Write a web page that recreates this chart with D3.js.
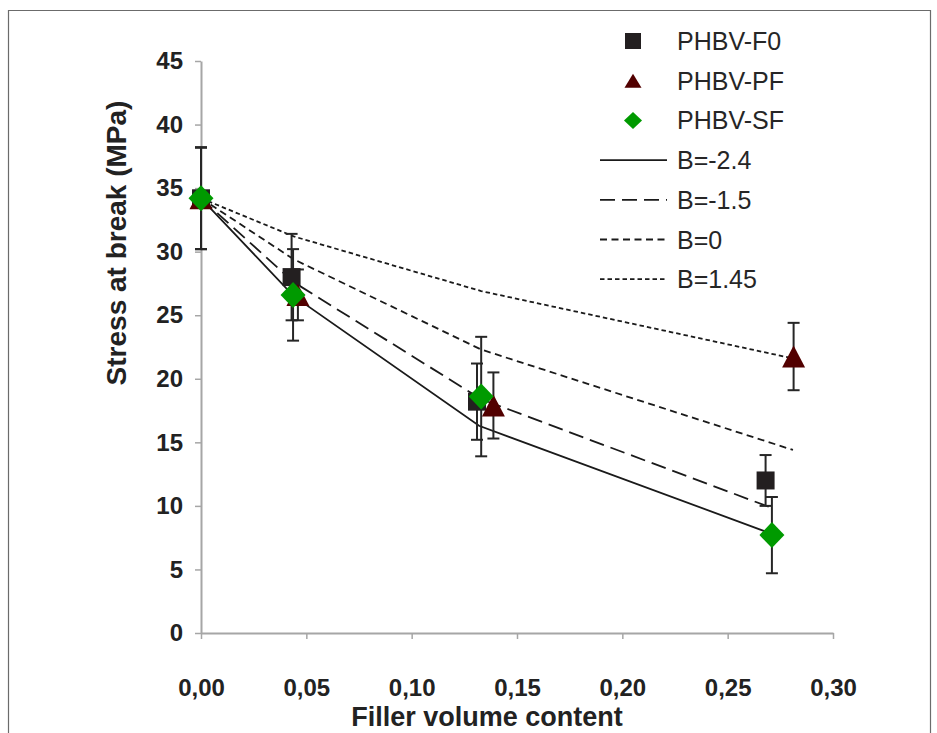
<!DOCTYPE html>
<html>
<head>
<meta charset="utf-8">
<script src="https://cdn.jsdelivr.net/npm/d3@7"></script>
<style>
  html, body { margin: 0; padding: 0; background: #fff; }
  svg { display: block; font-family: "Liberation Sans", Arial, sans-serif; }
</style>
</head>
<body>
<svg id="chart" width="937" height="733"></svg>
<script>
// Measured stress at break for each composite, mean and ± error
const f0X   = [0, 0.043, 0.131, 0.268];
const f0Y   = [34.2, 28.0, 18.2, 12.0];
const f0Err = [4.0, 3.4, 3.0, 2.0];

const pfX   = [0, 0.046, 0.1388, 0.2813];
const pfY   = [34.2, 26.6, 17.9, 21.75];
const pfErr = [4.0, 2.0, 2.6, 2.65];

const sfX   = [0, 0.0437, 0.133, 0.271];
const sfY   = [34.2, 26.6, 18.6, 7.7];
const sfErr = [4.0, 3.6, 4.7, 3.0];

const seriesNames = ["PHBV-F0", "PHBV-PF", "PHBV-SF"];

// Model predictions for different interaction parameters B
const modelNames = ["B=-2.4", "B=-1.5", "B=0", "B=1.45"];
const bNeg24X = [0, 0.044, 0.132, 0.271];
const bNeg24Y = [34.2, 26.5, 16.3, 7.8];
const bNeg15X = [0, 0.044, 0.133, 0.270];
const bNeg15Y = [34.2, 27.6, 18.4, 9.9];
const bZeroX  = [0, 0.044, 0.133, 0.281];
const bZeroY  = [34.2, 29.4, 22.3, 14.4];
const bPos145X = [0, 0.044, 0.133, 0.281];
const bPos145Y = [34.2, 31.2, 26.9, 21.6];

const xTicks = [0, 0.05, 0.10, 0.15, 0.20, 0.25, 0.30];
const yTicks = [0, 5, 10, 15, 20, 25, 30, 35, 40, 45];

const svg = d3.select("#chart");

// outer frame
svg.append("path")
  .attr("d", "M8.5,740 V10.5 H930.5 V740")
  .attr("fill", "none").attr("stroke", "#6b6b6b").attr("stroke-width", 1.2);

const x = d3.scaleLinear().domain([0, 0.30]).range([201, 833]);
const y = d3.scaleLinear().domain([0, 45]).range([633, 61]);

const axisColor = "#a6a6a6";
const textColor = "#222";

// y axis
const gy = svg.append("g").attr("transform", "translate(201,0)")
  .call(d3.axisLeft(y).tickValues(yTicks).tickSize(6).tickSizeOuter(0).tickPadding(12)
        .tickFormat(d3.format("d")));
// x axis
const gx = svg.append("g").attr("transform", "translate(0,633)")
  .call(d3.axisBottom(x).tickValues(xTicks).tickSize(6).tickSizeOuter(0).tickPadding(40)
        .tickFormat(d => d.toFixed(2).replace(".", ",")));

[gx, gy].forEach(g => {
  g.select(".domain").attr("stroke", axisColor).attr("stroke-width", 2);
  g.selectAll(".tick line").attr("stroke", axisColor).attr("stroke-width", 1.5);
  g.selectAll(".tick text").attr("fill", textColor)
    .style("font-size", "24px").style("font-weight", "bold")
    .style("font-family", "'Liberation Sans', Arial, sans-serif");
});

// axis titles
svg.append("text")
  .attr("x", 487).attr("y", 726)
  .attr("text-anchor", "middle")
  .attr("fill", textColor)
  .style("font-size", "27px").style("font-weight", "bold")
  .text("Filler volume content");

svg.append("text")
  .attr("transform", "translate(126,243) rotate(-90)")
  .attr("text-anchor", "middle")
  .attr("fill", textColor)
  .style("font-size", "28px").style("font-weight", "bold")
  .text("Stress at break (MPa)");

// model curves
const dashes = [null, "15,7", "7,4.5", "4.5,3"];
const models = [
  { xs: bNeg24X, ys: bNeg24Y },
  { xs: bNeg15X, ys: bNeg15Y },
  { xs: bZeroX,  ys: bZeroY },
  { xs: bPos145X, ys: bPos145Y }
];
const line = d3.line().x(d => x(d[0])).y(d => y(d[1]));
models.forEach((m, i) => {
  svg.append("path")
    .datum(d3.zip(m.xs, m.ys))
    .attr("d", line)
    .attr("fill", "none")
    .attr("stroke", "#1a1a1a")
    .attr("stroke-width", 1.8)
    .attr("stroke-dasharray", dashes[i]);
});

// marker shapes, centred on their bounding box
function squarePath(w) {
  const h = w / 2;
  return `M${-h},${-h}H${h}V${h}H${-h}Z`;
}
function trianglePath(w, hgt) {
  return `M0,${-hgt / 2}L${w / 2},${hgt / 2}L${-w / 2},${hgt / 2}Z`;
}
function diamondPath(w, hgt) {
  return `M0,${-hgt / 2}L${w / 2},0L0,${hgt / 2}L${-w / 2},0Z`;
}

const series = [
  { xs: f0X, ys: f0Y, err: f0Err, color: "#231f20", shape: () => squarePath(18), legendShape: () => squarePath(16) },
  { xs: pfX, ys: pfY, err: pfErr, color: "#520000", shape: () => trianglePath(23, 22), legendShape: () => trianglePath(17, 14) },
  { xs: sfX, ys: sfY, err: sfErr, color: "#009a00", shape: () => diamondPath(25, 26), legendShape: () => diamondPath(18, 17) }
];

// error bars beneath all markers
const capHalf = 6;
series.forEach(s => {
  const g = svg.append("g").attr("stroke", "#262626").attr("stroke-width", 2).attr("fill", "none");
  d3.zip(s.xs, s.ys, s.err).forEach(([vx, vy, ve]) => {
    const cx = x(vx), top = y(vy + ve), bot = y(vy - ve);
    g.append("line").attr("x1", cx).attr("x2", cx).attr("y1", top).attr("y2", bot);
    g.append("line").attr("x1", cx - capHalf).attr("x2", cx + capHalf).attr("y1", top).attr("y2", top);
    g.append("line").attr("x1", cx - capHalf).attr("x2", cx + capHalf).attr("y1", bot).attr("y2", bot);
  });
});

series.forEach(s => {
  svg.append("g").selectAll("path")
    .data(d3.zip(s.xs, s.ys))
    .join("path")
    .attr("transform", d => `translate(${x(d[0])},${y(d[1])})`)
    .attr("d", s.shape)
    .attr("fill", s.color);
});

// legend
const legend = svg.append("g").style("font-size", "25px").attr("fill", "#262626");
const rowY = i => 41 + i * 39.7;
series.forEach((s, i) => {
  legend.append("path")
    .attr("transform", `translate(633,${rowY(i)})`)
    .attr("d", s.legendShape)
    .attr("fill", s.color);
  legend.append("text")
    .attr("x", 677).attr("y", rowY(i)).attr("dy", "0.36em")
    .text(seriesNames[i]);
});
modelNames.forEach((name, j) => {
  const i = j + 3;
  legend.append("line")
    .attr("x1", 600).attr("x2", 667)
    .attr("y1", rowY(i)).attr("y2", rowY(i))
    .attr("stroke", "#1a1a1a").attr("stroke-width", 1.8)
    .attr("stroke-dasharray", dashes[j]);
  legend.append("text")
    .attr("x", 677).attr("y", rowY(i)).attr("dy", "0.36em")
    .text(name);
});
</script>
</body>
</html>
